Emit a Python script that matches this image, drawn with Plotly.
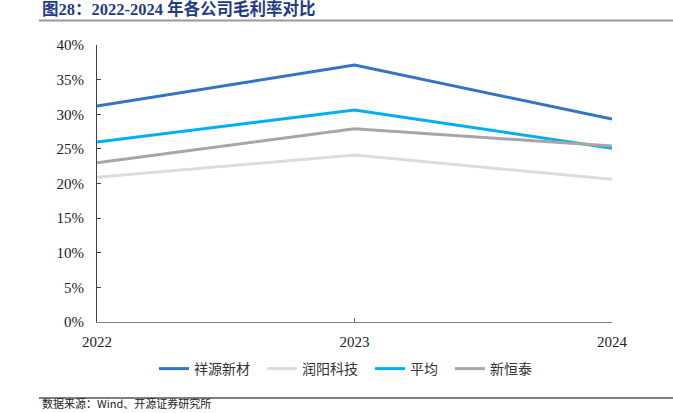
import plotly.graph_objects as go

years = [2022, 2023, 2024]
xiangyuan = [31.2, 37.1, 29.3]
runyang = [20.9, 24.1, 20.6]
average = [26.0, 30.6, 25.1]
xinhengtai = [23.0, 27.9, 25.4]

series = [
    ("祥源新材", xiangyuan, "#3474C6"),
    ("润阳科技", runyang, "#DCDCDC"),
    ("平均", average, "#00B0F0"),
    ("新恒泰", xinhengtai, "#A6A6A6"),
]

W, H = 673, 413
L, R, T, B = 97, 61, 45, 91
pw, ph = W - L - R, H - T - B

def px(x):
    return (x - L) / pw

def py(y):
    return (H - B - y) / ph

serif = "Liberation Serif, Times New Roman, Noto Sans CJK SC, serif"
cjk = "Noto Sans CJK SC, Liberation Serif, serif"

fig = go.Figure()
for name, vals, color in series:
    fig.add_trace(go.Scatter(
        x=years, y=[v / 100 for v in vals], mode="lines", name=name + "\u2002",
        line=dict(color=color, width=3), hoverinfo="skip",
    ))

fig.update_layout(
    width=W, height=H,
    margin=dict(l=L, r=R, t=T, b=B),
    paper_bgcolor="white", plot_bgcolor="white",
    font=dict(family=serif, size=15, color="#222222"),
    xaxis=dict(
        range=[2022, 2024], tickvals=years, ticktext=[str(y) for y in years],
        showgrid=False, zeroline=False, showline=True, linecolor="#808080", linewidth=1,
        ticks="inside", ticklen=4, tickcolor="#808080", ticklabelstandoff=6,
        tickfont=dict(family=serif, size=15, color="#222222"),
    ),
    yaxis=dict(
        range=[0, 0.4], dtick=0.05, tickformat=".0%",
        showgrid=False, zeroline=False, showline=True, linecolor="#404040", linewidth=1,
        ticks="inside", ticklen=4, tickcolor="#404040", ticklabelstandoff=9,
        tickfont=dict(family=serif, size=15, color="#222222"),
    ),
    legend=dict(
        orientation="h", x=px(154), xanchor="left", y=py(369), yanchor="middle",
        font=dict(family=cjk, size=14, color="#333333"),
        itemwidth=30, tracegroupgap=0,
    ),
    showlegend=True,
)

fig.add_annotation(
    x=px(40), y=py(9), xref="paper", yref="paper", xanchor="left", yanchor="middle",
    text="<b>图28：2022-2024 年各公司毛利率对比</b>", showarrow=False,
    font=dict(family="Liberation Serif, Noto Sans CJK SC, serif", size=16.5, color="#1F3B86"),
)
fig.add_shape(type="line", xref="paper", yref="paper",
              x0=px(39), x1=px(673), y0=py(20.5), y1=py(20.5),
              line=dict(color="#999999", width=2))
fig.add_shape(type="line", xref="paper", yref="paper",
              x0=px(39), x1=px(673), y0=py(398), y1=py(398),
              line=dict(color="#555555", width=1.5))
fig.add_annotation(
    x=px(40), y=py(413), xref="paper", yref="paper", xanchor="left", yanchor="bottom",
    text="数据来源：Wind、开源证券研究所", showarrow=False,
    font=dict(family=cjk, size=11, color="#222222"),
)

fig.write_html("out.html", config={"displayModeBar": False},
               post_script="document.body.style.margin='0px';")
